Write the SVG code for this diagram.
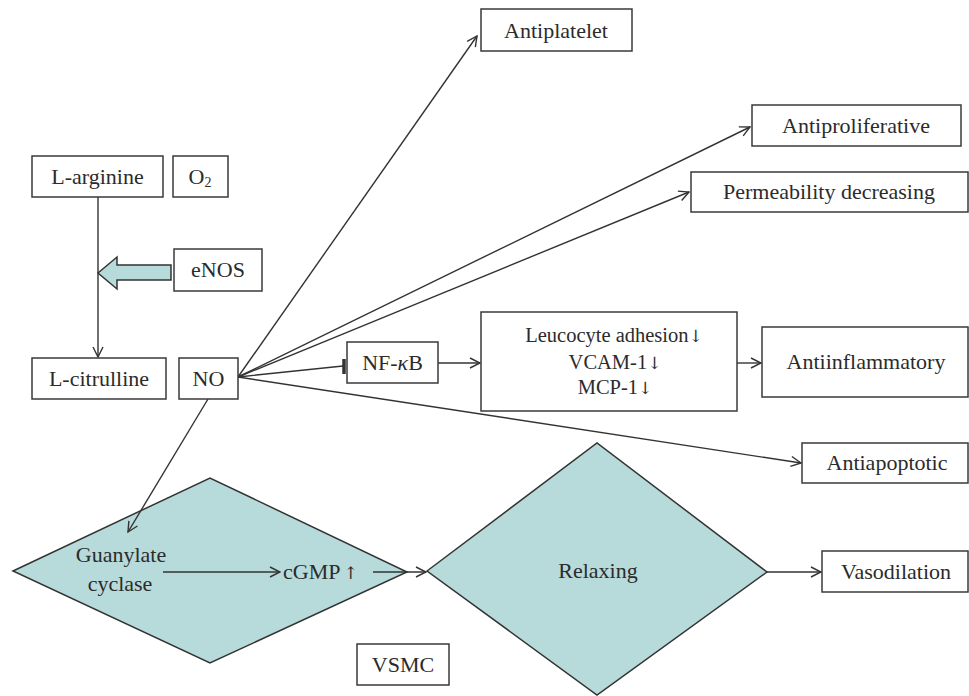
<svg xmlns="http://www.w3.org/2000/svg" width="969" height="696" viewBox="0 0 969 696">
<defs>
<style>
.box{fill:#fff;stroke:#3a3a3a;stroke-width:1.5}
.dia{fill:#b7dada;stroke:#333;stroke-width:1.5}
.t{font-family:"Liberation Serif","DejaVu Serif",serif;font-size:22px;fill:#2b2b2b;text-anchor:middle}
.tl{font-family:"Liberation Serif","DejaVu Serif",serif;font-size:22px;fill:#2b2b2b}
.ts{font-size:20.5px}
.ar{font-family:"DejaVu Serif",serif;font-size:17px;fill:#2b2b2b}
.c{fill:none;stroke:#333;stroke-width:1.4}
</style>
<marker id="ah" viewBox="0 0 12 12" refX="11" refY="6" markerWidth="12" markerHeight="12" markerUnits="userSpaceOnUse" orient="auto">
<path d="M1,1 L11,6 L1,11" fill="none" stroke="#333" stroke-width="1.4"/>
</marker>
</defs>
<rect width="969" height="696" fill="#fff"/>

<g id="guanylate">
<polygon class="dia" points="13,571 210,478 407,572 210,663"/>
<text class="t" x="121" y="562">Guanylate</text>
<text class="t" x="120" y="591">cyclase</text>
</g>
<g id="relaxing">
<polygon class="dia" points="427,571 597,443 767,572 597,695"/>
<text class="t" x="598" y="578">Relaxing</text>
</g>
<g id="cgmp"><text class="tl" x="283" y="579">cGMP<tspan class="ar" dx="3">↑</tspan></text></g>

<g id="connectors">
<line class="c" x1="98" y1="197" x2="98" y2="357" marker-end="url(#ah)"/>
<polygon points="98,273 117,257 117,265 171,265 171,280 117,280 117,289" fill="#b7dada" stroke="#333" stroke-width="1.5"/>
<line class="c" x1="238" y1="377" x2="477" y2="36" marker-end="url(#ah)"/>
<line class="c" x1="238" y1="377" x2="750" y2="127" marker-end="url(#ah)"/>
<line class="c" x1="238" y1="377" x2="689" y2="192" marker-end="url(#ah)"/>
<line class="c" x1="238" y1="377" x2="343" y2="366"/>
<line x1="344" y1="359" x2="344" y2="374" stroke="#333" stroke-width="3.5"/>
<line class="c" x1="238" y1="377" x2="801" y2="463" marker-end="url(#ah)"/>
<line class="c" x1="208" y1="399" x2="128" y2="532" marker-end="url(#ah)"/>
<line class="c" x1="438" y1="363" x2="480" y2="363" marker-end="url(#ah)"/>
<line class="c" x1="737" y1="363" x2="761" y2="363" marker-end="url(#ah)"/>
<line class="c" x1="163" y1="572" x2="280" y2="572" marker-end="url(#ah)"/>
<line class="c" x1="373" y1="572" x2="426" y2="572" marker-end="url(#ah)"/>
<line class="c" x1="767" y1="572" x2="821" y2="572" marker-end="url(#ah)"/>
</g>

<g id="antiplatelet"><rect class="box" x="481" y="9" width="151" height="42"/><text class="t" x="556" y="38">Antiplatelet</text></g>
<g id="antiproliferative"><rect class="box" x="752" y="105" width="209" height="41"/><text class="t" x="856" y="133">Antiproliferative</text></g>
<g id="permeability"><rect class="box" x="691" y="172" width="277" height="40"/><text class="t" x="829" y="199">Permeability decreasing</text></g>
<g id="larginine"><rect class="box" x="32" y="156" width="131" height="41"/><text class="t" x="97.5" y="184">L-arginine</text></g>
<g id="o2"><rect class="box" x="173" y="156" width="55" height="41"/><text class="t" x="200" y="184">O<tspan font-size="14" dy="3">2</tspan></text></g>
<g id="enos"><rect class="box" x="174" y="249" width="88" height="42"/><text class="t" x="218" y="277">eNOS</text></g>
<g id="lcitrulline"><rect class="box" x="32" y="358" width="134" height="41"/><text class="t" x="99" y="386">L-citrulline</text></g>
<g id="no"><rect class="box" x="179" y="358" width="59" height="41"/><text class="t" x="208.5" y="386">NO</text></g>
<g id="nfkb"><rect class="box" x="347" y="342" width="91" height="41"/><text class="t" x="392.5" y="370">NF-<tspan font-style="italic">κ</tspan>B</text></g>
<g id="leucocyte"><rect class="box" x="481" y="312" width="256" height="99"/>
<text class="t ts" x="614" y="342">Leucocyte adhesion<tspan class="ar">↓</tspan></text>
<text class="t ts" x="615" y="369">VCAM-1<tspan class="ar">↓</tspan></text>
<text class="t ts" x="615" y="394">MCP-1<tspan class="ar">↓</tspan></text></g>
<g id="antiinflammatory"><rect class="box" x="762" y="327" width="206" height="70"/><text class="t" x="866" y="369">Antiinflammatory</text></g>
<g id="antiapoptotic"><rect class="box" x="802" y="443" width="166" height="40"/><text class="t" x="887" y="470">Antiapoptotic</text></g>
<g id="vasodilation"><rect class="box" x="822" y="551" width="146" height="41"/><text class="t" x="896" y="579">Vasodilation</text></g>
<g id="vsmc"><rect class="box" x="357" y="644" width="92" height="41"/><text class="t" x="403" y="672">VSMC</text></g>
</svg>
